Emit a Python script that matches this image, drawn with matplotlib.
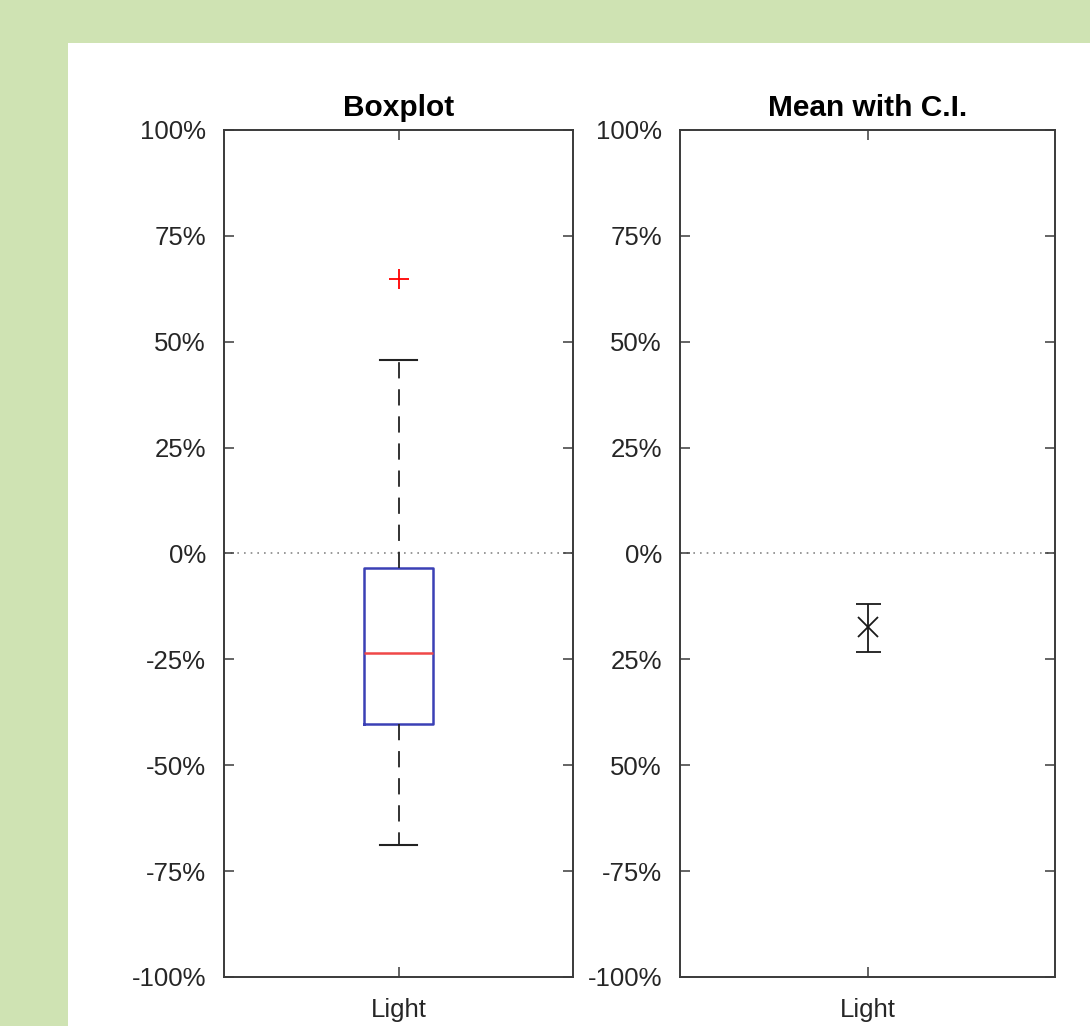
import matplotlib
matplotlib.use('Agg')
import matplotlib.pyplot as plt
from matplotlib.patches import Rectangle

plt.rcParams['font.family'] = ['Liberation Sans', 'DejaVu Sans']

# data (percent)
group = ['Light']
box_q1, box_med, box_q3 = -40.3, -23.5, -3.4
whisk_lo, whisk_hi = -68.8, 45.7
outliers = [64.8]
ci_mean = [-17.4]
ci_lo = [-23.3]
ci_hi = [-11.9]
yticks = [100, 75, 50, 25, 0, -25, -50, -75, -100]
left_labels = ['100%', '75%', '50%', '25%', '0%', '-25%', '-50%', '-75%', '-100%']
right_labels = ['100%', '75%', '50%', '25%', '0%', '25%', '50%', '-75%', '-100%']

W, H = 1090, 1026
fig = plt.figure(figsize=(W / 100, H / 100), dpi=100)
fig.patch.set_facecolor('#cfe3b3')
fig.patches.append(Rectangle((68 / W, 0), 1 - 68 / W, 1 - 43 / H,
                             transform=fig.transFigure, facecolor='white',
                             edgecolor='none', zorder=-10))

spine_c = '#3a3a3a'
text_c = '#262626'


def style(ax, labels):
    ax.set_xlim(0.5, 1.5)
    ax.set_ylim(-100, 100)
    ax.set_yticks(yticks)
    ax.set_yticklabels(labels)
    ax.set_xticks([1])
    ax.set_xticklabels(group)
    ax.tick_params(direction='in', top=True, right=True, length=7, width=1.1,
                   color=spine_c, labelcolor=text_c, labelsize=18.5)
    ax.tick_params(axis='y', pad=13)
    ax.tick_params(axis='x', pad=15)
    for s in ax.spines.values():
        s.set_color(spine_c)
        s.set_linewidth(1.4)
    ax.axhline(0, color='#888888', ls=(0, (1, 3)), lw=1.2, zorder=1)


# boxplot
ax1 = fig.add_axes([224 / W, 1 - 977 / H, 349 / W, 847 / H])
stats = [dict(med=box_med, q1=box_q1, q3=box_q3, whislo=whisk_lo,
              whishi=whisk_hi, fliers=outliers, label=group[0])]
ax1.bxp(stats, positions=[1], widths=0.2,
        boxprops=dict(color='#3b40b5', lw=1.8),
        medianprops=dict(color='#f04848', lw=1.8),
        whiskerprops=dict(color='#222222', lw=1.3, ls=(0, (9, 6))),
        capprops=dict(color='#222222', lw=1.5),
        capwidths=0.105,
        flierprops=dict(marker='+', markeredgecolor='red', markersize=14,
                        markeredgewidth=1.3, ls='none'))
style(ax1, left_labels)
ax1.set_title('Boxplot', fontsize=21.5, fontweight='bold', color='black', pad=10)

# mean with CI
ax2 = fig.add_axes([680 / W, 1 - 977 / H, 375 / W, 847 / H])
yerr = [[m - l for m, l in zip(ci_mean, ci_lo)], [h - m for m, h in zip(ci_mean, ci_hi)]]
ax2.errorbar([1], ci_mean, yerr=yerr, fmt='x', color='#1a1a1a', ms=14,
             mew=1.3, elinewidth=1.3, capsize=9, capthick=1.3)
style(ax2, right_labels)
ax2.set_title('Mean with C.I.', fontsize=21.5, fontweight='bold', color='black', pad=10)

fig.savefig('out.png', dpi=100, facecolor=fig.get_facecolor())
